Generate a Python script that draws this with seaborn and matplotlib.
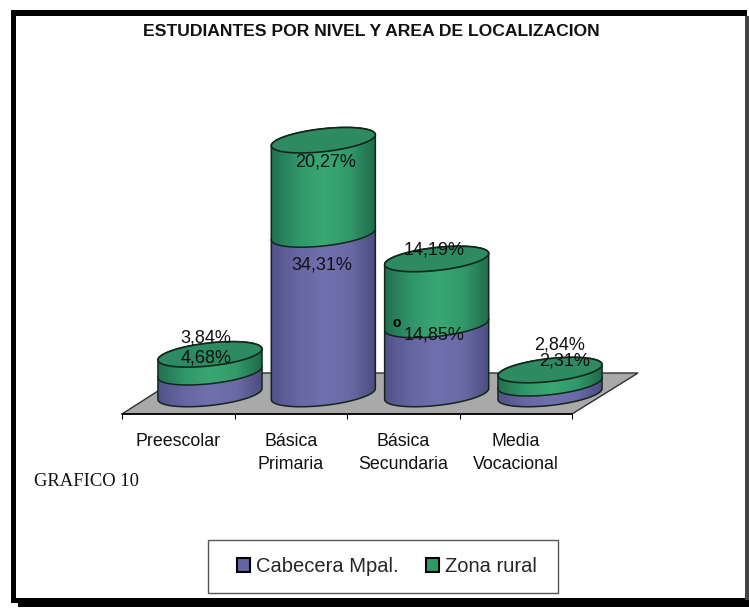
import numpy as np
import matplotlib.pyplot as plt
import seaborn as sns
from matplotlib.colors import LinearSegmentedColormap
from matplotlib.patches import Patch, PathPatch, Polygon, Rectangle
from matplotlib.path import Path

# --- Data ---
niveles = ["Preescolar", "Básica\nPrimaria", "Básica\nSecundaria", "Media\nVocacional"]
cabecera = [4.68, 34.31, 14.85, 2.31]
rural = [3.84, 20.27, 14.19, 2.84]
etiq_cabecera = ["4,68%", "34,31%", "14,85%", "2,31%"]
etiq_rural = ["3,84%", "20,27%", "14,19%", "2,84%"]

# --- Settings ---
W, H = 749, 608
PX_PER_PCT = 4.65
BASE_PX = 394
SHEAR = 5.5 / PX_PER_PCT  # left end of the ellipse sits lower than the right
RY = 11.5 / PX_PER_PCT
# label offsets in pixels from top of segment
off_cabecera = [(-4, 14), (-2, -31), (-3, -10), (15, 22)]
off_rural = [(-4, 16), (2, -22), (-3, 9), (10, 25)]

sns.set_theme(style="white")
plt.rcParams["font.family"] = ["Liberation Sans", "DejaVu Sans"]

fig = plt.figure(figsize=(W / 100, H / 100), dpi=100, facecolor="white")


def px_axes(x0, y0, x1, y1):
    return fig.add_axes([x0 / W, 1 - y1 / H, (x1 - x0) / W, (y1 - y0) / H])


def px_rect(x0, y0, x1, y1, color, edge="none", z=-5):
    fig.patches.append(Rectangle((x0 / W, 1 - y1 / H), (x1 - x0) / W, (y1 - y0) / H,
                                 transform=fig.transFigure, facecolor=color,
                                 edgecolor=edge, figure=fig, zorder=z))


# --- Frame with shadow ---
px_rect(11, 10, 747, 603, "black", z=-5)
px_rect(18, 600, 749, 607, "black", z=-5)
px_rect(745, 16, 749, 600, "#444444", z=-4)
px_rect(16, 16, 745, 598, "white", z=-3)
px_rect(208, 540, 557.5, 593, "white", edge="#555555", z=-2)

# --- Floor and category axis ---
ax_floor = px_axes(122, 373, 572, 414)
ax_floor.set_xlim(-0.5, 3.5)
ax_floor.set_ylim(0, 1)
ax_floor.patch.set_visible(False)
ax_floor.add_patch(Polygon([(-0.5, 0), (3.5, 0), (4.087, 1), (0.069, 1)], closed=True,
                           facecolor="#a9a9a9", edgecolor="#303030", lw=1, clip_on=False))
for s in ["left", "right", "top"]:
    ax_floor.spines[s].set_visible(False)
ax_floor.spines["bottom"].set_color("black")
ax_floor.spines["bottom"].set_linewidth(1.2)
ax_floor.set_yticks([])
ax_floor.set_xticks([-0.5, 0.5, 1.5, 2.5, 3.5])
ax_floor.set_xticklabels([])
ax_floor.set_xticks(range(4), minor=True)
ax_floor.set_xticklabels(niveles, minor=True, fontsize=12.8, color="#111111", linespacing=1.42)
ax_floor.tick_params(axis="x", which="major", length=3.5, width=0.8, color="black", bottom=True)
ax_floor.tick_params(axis="x", which="minor", length=0, pad=14)

# --- Cylinders ---
ax = px_axes(153.3, 115, 606.7, 412.6)
ax.set_zorder(3)
ax.patch.set_visible(False)
sns.barplot(x=niveles, y=cabecera, color="#6c6ca8", width=0.918, saturation=1, ax=ax)
sns.barplot(x=niveles, y=rural, bottom=cabecera, color="#38a06e", width=0.918, saturation=1, ax=ax)
ax.set_xlim(-0.5, 3.5)
ax.set_ylim(-18.6 / PX_PER_PCT, (BASE_PX - 115) / PX_PER_PCT)
ax.axis("off")

cm_purple = LinearSegmentedColormap.from_list("p", ["#52528a", "#6666a2", "#7070ae", "#6a6aa6", "#4c4c80"])
cm_green = LinearSegmentedColormap.from_list("g", ["#22704e", "#30966a", "#3aa873", "#32996a", "#1f6a4a"])
grad = np.linspace(0, 1, 128).reshape(1, -1)
ts = np.linspace(0, np.pi, 60)
EDGE = "#12261c"


def arc(cx, a, y, t):
    return np.column_stack([cx + a * np.cos(t), y + SHEAR * np.cos(t) + RY * np.sin(t)])


def segment(bar, cmap, z):
    x, w = bar.get_x(), bar.get_width()
    y0, y1 = bar.get_y(), bar.get_y() + bar.get_height()
    cx, a = x + w / 2, w / 2
    lower = arc(cx, a, y0, np.pi + ts)          # front arc, left to right
    upper = arc(cx, a, y1, ts)                  # back arc, right to left
    verts = np.vstack([lower, upper, lower[:1]])
    path = Path(verts, closed=True)
    clip = PathPatch(path, transform=ax.transData, facecolor="none", edgecolor=EDGE, lw=1.1, zorder=z + 1)
    ax.add_patch(clip)
    bar.set_zorder(z - 1)
    bar.set_clip_path(clip)
    bar.set_edgecolor("none")
    im = ax.imshow(grad, cmap=cmap, extent=[x, x + w, y0 - 2 * RY, y1 + 2 * RY], aspect="auto", zorder=z)
    im.set_clip_path(clip)


bars = list(ax.patches)
for i in range(4):
    segment(bars[i], cm_purple, 3 + i * 10)
    segment(bars[i + 4], cm_green, 5 + i * 10)
    top = bars[i + 4]
    cx = top.get_x() + top.get_width() / 2
    el = arc(cx, top.get_width() / 2, top.get_y() + top.get_height(), np.linspace(0, 2 * np.pi, 120))
    ax.add_patch(Polygon(el, closed=True, facecolor="#2e8a60", edgecolor=EDGE, lw=1.2, zorder=8 + i * 10))
ax.set_xlim(-0.5, 3.5)
ax.set_ylim(-18.6 / PX_PER_PCT, (BASE_PX - 115) / PX_PER_PCT)

# --- Data labels ---
for i in range(4):
    y_c = cabecera[i]
    y_r = cabecera[i] + rural[i]
    ax.annotate(etiq_cabecera[i], (i, y_c), xytext=off_cabecera[i], textcoords="offset pixels",
                ha="center", va="center", fontsize=13, color="#111111", zorder=100, annotation_clip=False)
    ax.annotate(etiq_rural[i], (i, y_r), xytext=off_rural[i], textcoords="offset pixels",
                ha="center", va="center", fontsize=13, color="#111111", zorder=100, annotation_clip=False)

# --- Texts ---
fig.text(371 / W, 1 - 31 / H, "ESTUDIANTES POR NIVEL Y AREA DE LOCALIZACION", ha="center", va="center",
         fontsize=12.6, fontweight="bold", color="#111111")
fig.text(34 / W, 1 - 481 / H, "GRAFICO 10", ha="left", va="center", family="Liberation Serif",
         fontsize=13.4, color="#111111")
fig.text(397 / W, 1 - 323 / H, "o", ha="center", va="center", fontsize=10, fontweight="bold",
         color="black", zorder=100)

# --- Legend ---
leg = fig.legend(handles=[Patch(facecolor="#6464a0", edgecolor="black", lw=1.5, label="Cabecera Mpal."),
                          Patch(facecolor="#2f9a68", edgecolor="black", lw=1.5, label="Zona rural")],
                 loc="center", bbox_to_anchor=(387 / W, 1 - 566.5 / H), ncol=2, fontsize=14.5,
                 frameon=False, borderpad=0.5, borderaxespad=0,
                 handlelength=0.62, handleheight=0.75, handletextpad=0.3, columnspacing=1.4, labelspacing=0)

fig.savefig("out.png", dpi=100)
